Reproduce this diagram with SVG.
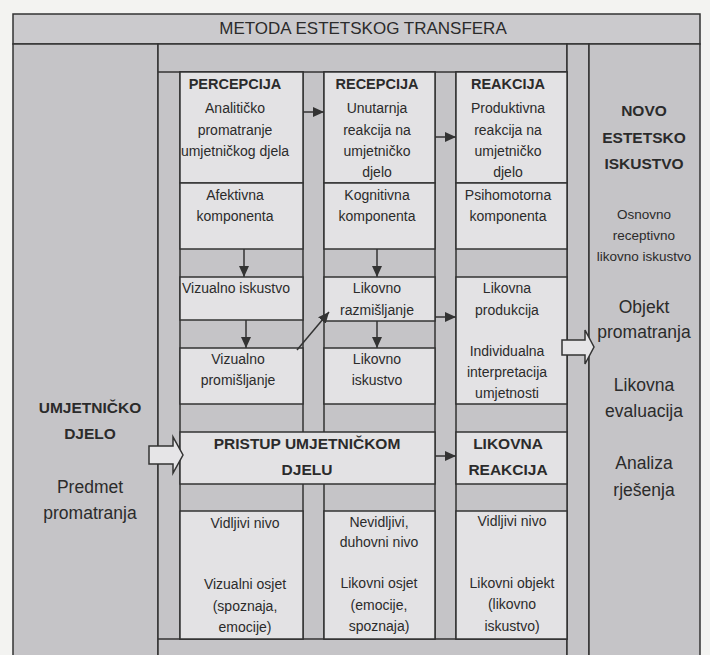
<svg xmlns="http://www.w3.org/2000/svg" width="710" height="655" viewBox="0 0 710 655">
<style>
.bg{fill:#c5c4c7;stroke:#333;stroke-width:1.5}
.lt{fill:#e3e2e4;stroke:#333;stroke-width:1.5}
.ln{stroke:#333;stroke-width:1.5;fill:none}
.ar{stroke:#333;stroke-width:1.5;fill:none;marker-end:url(#ah)}
.ha{fill:#e6e5e7;stroke:#333;stroke-width:1.5}
text{font-family:"Liberation Sans",Arial,sans-serif;fill:#2b2b2b;text-anchor:middle}
.t{font-size:14px}
.s{font-size:13.5px}
.b{font-size:14.5px;font-weight:bold}
.B{font-size:15.5px;font-weight:bold}
.L{font-size:17.5px}
.T{font-size:17px}
</style>
<defs>
<marker id="ah" viewBox="0 0 11 10" refX="11" refY="5" markerWidth="11" markerHeight="10" markerUnits="userSpaceOnUse" orient="auto"><path d="M0,0 L11,5 L0,10 z" fill="#333"/></marker>
</defs>
<rect x="0" y="0" width="710" height="655" fill="#f3f3f1"/>
<g id="frame">
<rect class="bg" x="13" y="14" width="687" height="30" style="fill:#cbcacd"/>
<rect class="bg" x="13" y="44" width="145" height="620"/>
<rect class="bg" x="158" y="44" width="409" height="620"/>
<rect class="bg" x="567" y="44" width="22" height="620"/>
<rect class="bg" x="589" y="44" width="111" height="620"/>
<line class="ln" x1="158" y1="72" x2="567" y2="72"/>
<line class="ln" x1="158" y1="639" x2="567" y2="639"/>
<rect class="bg" x="180" y="72" width="123" height="567"/>
<rect class="bg" x="324" y="72" width="111" height="567"/>
<rect class="bg" x="456" y="72" width="111" height="567"/>
<text class="T" x="363" y="34">METODA ESTETSKOG TRANSFERA</text>
</g>
<g id="umjetnicko-djelo">
<text class="B" x="90" y="413">UMJETNIČKO</text>
<text class="B" x="90" y="439">DJELO</text>
<text class="L" x="90" y="493">Predmet</text>
<text class="L" x="90" y="519">promatranja</text>
</g>
<g id="novo-iskustvo">
<text class="B" x="644" y="116">NOVO</text>
<text class="B" x="644" y="143">ESTETSKO</text>
<text class="B" x="644" y="169">ISKUSTVO</text>
<text class="s" x="644" y="219">Osnovno</text>
<text class="s" x="644" y="240">receptivno</text>
<text class="s" x="644" y="261">likovno iskustvo</text>
<text class="L" x="644" y="313">Objekt</text>
<text class="L" x="644" y="338">promatranja</text>
<text class="L" x="644" y="391">Likovna</text>
<text class="L" x="644" y="417">evaluacija</text>
<text class="L" x="644" y="469">Analiza</text>
<text class="L" x="644" y="496">rješenja</text>
</g>
<g id="percepcija">
<rect class="lt" x="180" y="72" width="123" height="111"/>
<text class="b" x="235" y="89">PERCEPCIJA</text>
<text class="t" x="235" y="113">Analitičko</text>
<text class="t" x="235" y="135">promatranje</text>
<text class="t" x="235" y="156">umjetničkog djela</text>
</g>
<g id="afektivna">
<rect class="lt" x="180" y="183" width="123" height="66"/>
<text class="t" x="235" y="200">Afektivna</text>
<text class="t" x="235" y="221">komponenta</text>
</g>
<g id="vizualno-iskustvo">
<rect class="lt" x="180" y="277" width="123" height="43"/>
<text class="t" x="236" y="293">Vizualno iskustvo</text>
</g>
<g id="vizualno-promisljanje">
<rect class="lt" x="180" y="348" width="123" height="56"/>
<text class="t" x="238" y="364">Vizualno</text>
<text class="t" x="238" y="385">promišljanje</text>
</g>
<g id="vidljivi-a">
<rect class="lt" x="180" y="511" width="123" height="128"/>
<text class="t" x="245" y="528">Vidljivi nivo</text>
<text class="t" x="245" y="589">Vizualni osjet</text>
<text class="t" x="245" y="611">(spoznaja,</text>
<text class="t" x="245" y="632">emocije)</text>
</g>
<g id="recepcija">
<rect class="lt" x="324" y="72" width="111" height="111"/>
<text class="b" x="377" y="89">RECEPCIJA</text>
<text class="t" x="377" y="113">Unutarnja</text>
<text class="t" x="377" y="135">reakcija na</text>
<text class="t" x="377" y="156">umjetničko</text>
<text class="t" x="377" y="177">djelo</text>
</g>
<g id="kognitivna">
<rect class="lt" x="324" y="183" width="111" height="66"/>
<text class="t" x="377" y="200">Kognitivna</text>
<text class="t" x="377" y="221">komponenta</text>
</g>
<g id="likovno-razmisljanje">
<rect class="lt" x="324" y="277" width="111" height="44"/>
<text class="t" x="377" y="293">Likovno</text>
<text class="t" x="377" y="315">razmišljanje</text>
</g>
<g id="likovno-iskustvo">
<rect class="lt" x="324" y="348" width="111" height="56"/>
<text class="t" x="377" y="364">Likovno</text>
<text class="t" x="377" y="385">iskustvo</text>
</g>
<g id="nevidljivi">
<rect class="lt" x="324" y="511" width="111" height="128"/>
<text class="t" x="379" y="527">Nevidljivi,</text>
<text class="t" x="379" y="547">duhovni nivo</text>
<text class="t" x="379" y="588">Likovni osjet</text>
<text class="t" x="379" y="610">(emocije,</text>
<text class="t" x="379" y="631">spoznaja)</text>
</g>
<g id="reakcija">
<rect class="lt" x="456" y="72" width="111" height="111"/>
<text class="b" x="508" y="89">REAKCIJA</text>
<text class="t" x="508" y="113">Produktivna</text>
<text class="t" x="508" y="135">reakcija na</text>
<text class="t" x="508" y="156">umjetničko</text>
<text class="t" x="508" y="177">djelo</text>
</g>
<g id="psihomotorna">
<rect class="lt" x="456" y="183" width="111" height="66"/>
<text class="t" x="508" y="200">Psihomotorna</text>
<text class="t" x="508" y="221">komponenta</text>
</g>
<g id="likovna-produkcija">
<rect class="lt" x="456" y="277" width="111" height="127"/>
<text class="t" x="507" y="293">Likovna</text>
<text class="t" x="507" y="315">produkcija</text>
<text class="t" x="507" y="356">Individualna</text>
<text class="t" x="507" y="377">interpretacija</text>
<text class="t" x="507" y="398">umjetnosti</text>
</g>
<g id="pristup">
<rect class="lt" x="180" y="432" width="255" height="52"/>
<text class="B" x="307" y="449">PRISTUP UMJETNIČKOM</text>
<text class="B" x="307" y="475">DJELU</text>
</g>
<g id="likovna-reakcija">
<rect class="lt" x="456" y="432" width="111" height="52"/>
<text class="B" x="508" y="449">LIKOVNA</text>
<text class="B" x="508" y="475">REAKCIJA</text>
</g>
<g id="vidljivi-c">
<rect class="lt" x="456" y="511" width="111" height="128"/>
<text class="t" x="512" y="526">Vidljivi nivo</text>
<text class="t" x="512" y="588">Likovni objekt</text>
<text class="t" x="512" y="609">(likovno</text>
<text class="t" x="512" y="631">iskustvo)</text>
</g>
<g id="connectors">
<line class="ar" x1="303" y1="112" x2="324" y2="112"/>
<line class="ar" x1="435" y1="137" x2="456" y2="137"/>
<line class="ar" x1="244" y1="249" x2="244" y2="277"/>
<line class="ar" x1="246" y1="320" x2="246" y2="348"/>
<line class="ar" x1="297" y1="350" x2="329" y2="312"/>
<line class="ar" x1="377" y1="249" x2="377" y2="277"/>
<line class="ar" x1="377" y1="321" x2="377" y2="348"/>
<line class="ar" x1="435" y1="317" x2="456" y2="317"/>
<line class="ar" x1="435" y1="456" x2="456" y2="456"/>
<path class="ha" d="M149,446 H173 V437 L183,455 L173,473 V464 H149 Z"/>
<path class="ha" d="M562,340 H585 V330 L594,347 L585,364 V355 H562 Z"/>
</g>
</svg>
